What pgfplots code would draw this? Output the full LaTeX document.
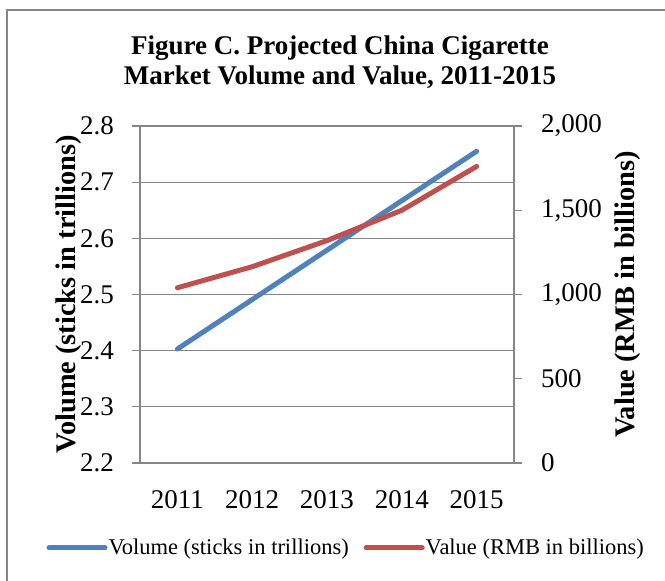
\documentclass[border=0pt]{standalone}
\usepackage{fontspec}
\setmainfont{Liberation Serif}
\usepackage{pgfplots}
\pgfplotsset{compat=1.18}

\definecolor{volblue}{HTML}{4F81BD}
\definecolor{valred}{HTML}{C0504D}
\definecolor{gridgray}{HTML}{868686}

\pgfplotstableread{
x year volume value
0 2011 2.403 1040
1 2012 2.491 1165
2 2013 2.579 1320
3 2014 2.667 1500
4 2015 2.755 1760
}\datatable

\begin{document}
\begin{tikzpicture}
% 1 px of the reference = 0.5pt
\useasboundingbox (0,0) rectangle (332.5pt,-290pt);
% outer frame (only top and left edges visible)
\draw[gridgray, line width=1pt] (3.5pt,-295pt) -- (3.5pt,-5pt) -- (340pt,-5pt);
\node[font=\bfseries\fontsize{13.5}{15}\selectfont, align=center] at (170pt,-31pt)
  {Figure C. Projected China Cigarette\\Market Volume and Value, 2011-2015};

\pgfplotsset{
  every axis/.append style={
    scale only axis, width=187pt, height=168.5pt,
    at={(70pt,-231.5pt)}, anchor=south west,
    xmin=-0.5, xmax=4.5, clip=false,
    tick label style={font=\fontsize{13.5}{15}\selectfont},
    /pgf/number format/assume math mode=true,
    axis line style={gridgray, line width=0.6pt},
    every tick/.style={gridgray, line width=0.6pt},
    label style={font=\bfseries\fontsize{14.2}{16}\selectfont},
  }
}

\begin{axis}[
  axis x line*=bottom, axis y line*=left,
  ymin=2.2, ymax=2.8, ytick={2.2,2.3,...,2.8},
  yticklabel style={xshift=-5.5pt, /pgf/number format/.cd, fixed, fixed zerofill, precision=1},
  ymajorgrids, major grid style={gridgray, line width=0.6pt},
  ytick align=outside, major tick length=4pt,
  xtick={0,...,4}, xticklabels={2011,2012,2013,2014,2015},
  x tick style={draw=none},
  minor xtick={-0.5,0.5,...,4.5}, xminorticks=true,
  minor x tick style={gridgray, line width=0.6pt},
  xtick align=outside, minor tick length=4pt,
  xticklabel style={yshift=-6pt},
  legend style={at={(axis description cs:0.55,-0.252)}, anchor=center,
    draw=none, legend columns=2, font=\fontsize{11.25}{13}\selectfont,
    nodes={inner xsep=0.5pt},
    /tikz/every even column/.append style={column sep=7pt}},
  legend image code/.code={\draw[#1, line cap=round] (0,0) -- (28pt,0);},
]
\addplot[volblue, line width=2.5pt, line cap=round] table[x=x, y=volume] {\datatable};
\addlegendentry{Volume (sticks in trillions)}
\addlegendimage{valred, line width=2.5pt}
\addlegendentry{Value (RMB in billions)}
\node[rotate=90, anchor=center, font=\bfseries\fontsize{14.2}{16}\selectfont]
  at (axis description cs:-0.192,0.5) {Volume (sticks in trillions)};
\end{axis}

\begin{axis}[
  axis x line=none, axis y line*=right,
  ymin=0, ymax=2000, ytick={0,500,...,2000},
  yticklabel style={xshift=6pt, /pgf/number format/.cd, 1000 sep={,}},
  ytick align=outside, major tick length=4pt,
  ylabel={Value (RMB in billions)},
  ylabel style={at={(axis description cs:1.305,0.5)}, anchor=center},
]
\addplot[valred, line width=2.5pt, line cap=round, line join=round] table[x=x, y=value] {\datatable};
\end{axis}
\end{tikzpicture}
\end{document}
